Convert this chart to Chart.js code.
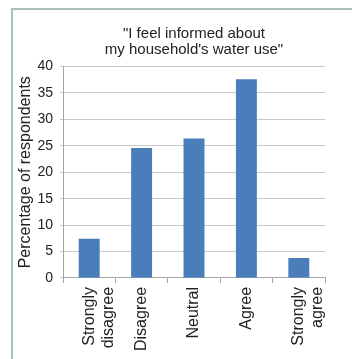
<!DOCTYPE html>
<html lang="en">
<head>
    <meta charset="UTF-8">
    <title>Water use survey</title>
    <script src="https://cdn.jsdelivr.net/npm/chart.js"></script>
    <style>
        html, body { margin: 0; padding: 0; background: #fff; }
        .frame {
            position: absolute;
            left: 11px;
            top: 8px;
            width: 341px;
            height: 351px;
            border-left: 2px solid #a9c0bc;
            border-top: 2px solid #a9c0bc;
            box-sizing: border-box;
        }
        .chart-box { position: absolute; left: 0; top: 0; width: 352px; height: 359px; }
    </style>
</head>
<body>
    <div class="frame"></div>
    <div class="chart-box">
        <canvas id="surveyChart" width="352" height="359"></canvas>
    </div>

    <script>
        // Survey responses
        const categories = [['Strongly', 'disagree'], 'Disagree', 'Neutral', 'Agree', ['Strongly', 'agree']];
        const percentages = [7.4, 24.6, 26.4, 37.6, 3.8];
        const yTicks = [0, 5, 10, 15, 20, 25, 30, 35, 40];
        const titleLines = ['"I feel informed about', 'my household\'s water use"'];

        const textColor = '#222';
        const fontFamily = "'Liberation Sans', Arial, sans-serif";

        const ctx = document.getElementById('surveyChart').getContext('2d');
        const surveyChart = new Chart(ctx, {
            type: 'bar',
            data: {
                labels: categories,
                datasets: [{
                    data: percentages,
                    backgroundColor: '#4a7ebb',
                    barPercentage: 0.4,
                    categoryPercentage: 1
                }]
            },
            options: {
                responsive: false,
                animation: false,
                layout: {
                    padding: { left: 12, right: 27, top: 0, bottom: 4 }
                },
                plugins: {
                    legend: { display: false },
                    tooltip: { enabled: false },
                    title: {
                        display: true,
                        fullSize: false,
                        text: titleLines,
                        color: textColor,
                        font: { family: fontFamily, size: 15, weight: 'normal', lineHeight: 1.05 },
                        padding: { top: 26, bottom: 9 }
                    }
                },
                scales: {
                    x: {
                        grid: {
                            drawOnChartArea: false,
                            drawTicks: true,
                            tickLength: 5,
                            color: '#a6a6a6'
                        },
                        border: { display: true, color: '#a6a6a6' },
                        ticks: {
                            autoSkip: false,
                            maxRotation: 90,
                            minRotation: 90,
                            padding: 4,
                            color: textColor,
                            font: { family: fontFamily, size: 16, lineHeight: 1.2 }
                        }
                    },
                    y: {
                        min: 0,
                        max: 40,
                        afterFit: function (scale) {
                            scale.width = 51;
                        },
                        afterBuildTicks: function (scale) {
                            scale.ticks = yTicks.map(v => ({ value: v }));
                        },
                        grid: {
                            color: '#c8c8c8',
                            drawTicks: true,
                            tickLength: 3
                        },
                        border: { display: true, color: '#a6a6a6' },
                        ticks: {
                            padding: 7,
                            color: textColor,
                            font: { family: fontFamily, size: 14 }
                        },
                        title: {
                            display: true,
                            text: 'Percentage of respondents',
                            color: textColor,
                            font: { family: fontFamily, size: 16, lineHeight: 1.2 },
                            padding: { top: 4, bottom: 0 }
                        }
                    }
                }
            }
        });
    </script>
</body>
</html>
